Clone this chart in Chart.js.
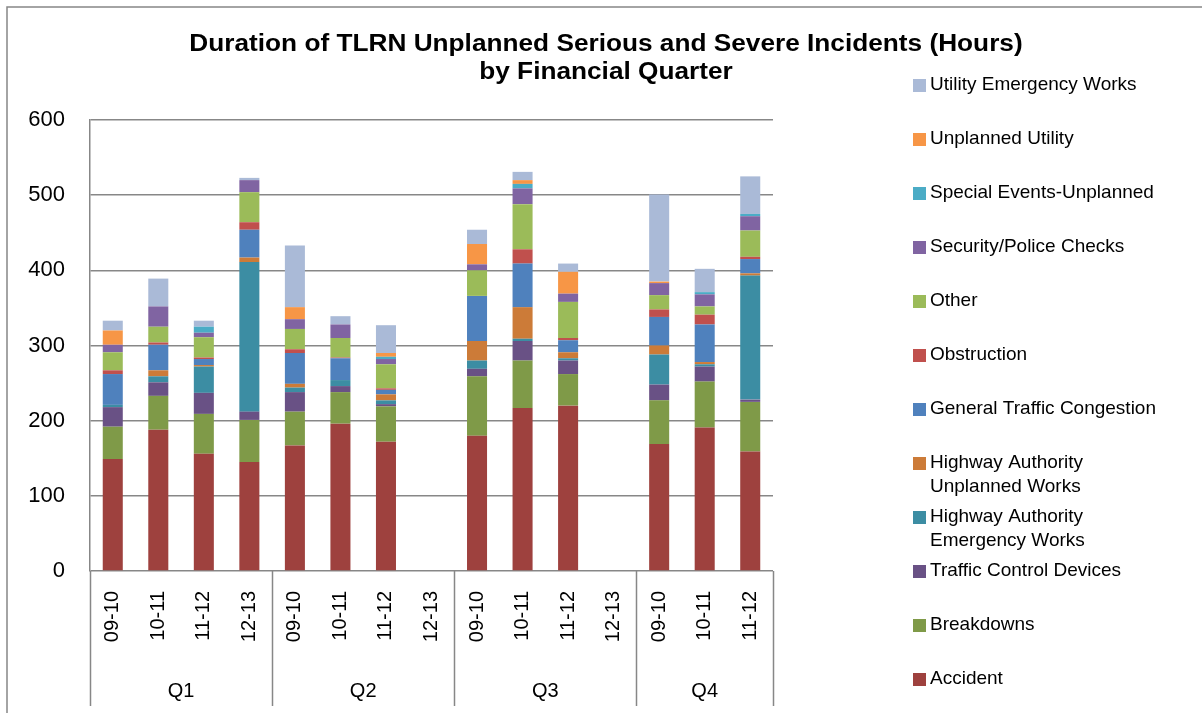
<!DOCTYPE html>
<html>
<head>
<meta charset="utf-8">
<script src="https://cdn.jsdelivr.net/npm/chart.js@4"></script>
<style>
body{margin:0;background:#fff}
#wrap{width:1202px;height:713px;position:relative}
</style>
</head>
<body>
<div id="wrap"><canvas id="grafica" width="1202" height="713"></canvas></div>
<script>

/* DATOS */

const etiquetas=["09-10","10-11","11-12","12-13","09-10","10-11","11-12","12-13","09-10","10-11","11-12","12-13","09-10","10-11","11-12"]
const trimestres=["Q1","Q2","Q3","Q4"]
const porTrimestre=[4,4,4,3]

const accident=[149,188,156,145,167,196,172,null,180,217,220,null,169,191,159]
const breakdowns=[43,45,53,56,45,42,47,null,79,63,42,null,58,61,66]
const trafficControl=[26,18,28,11,26,8,3,null,10,26,18,null,21,20,3]
const haEmergency=[3,8,35,199,6,8,5,null,11,3,3,null,40,3,165]
const haUnplanned=[0,8,2,6,5,0,8,null,26,42,8,null,12,3,3]
const congestion=[41,34,8,37,41,29,6,null,60,58,16,null,38,50,19]
const obstruction=[5,3,2,10,5,1,2,null,0,19,3,null,10,13,3]
const other=[24,21,27,40,27,26,32,null,34,60,48,null,19,11,35]
const security=[10,27,6,16,13,18,7,null,8,21,11,null,16,16,19]
const specialEvents=[0,0,8,0,0,0,3,null,0,6,0,null,0,3,3]
const unplannedUtility=[19,0,0,0,16,0,5,null,27,5,29,null,2,0,0]
const utilityEmergency=[13,37,8,3,82,11,37,null,19,11,11,null,116,31,50]

const series=[
["Accident",accident,"#9e413e"],
["Breakdowns",breakdowns,"#7f9a48"],
["Traffic Control Devices",trafficControl,"#695185"],
["Highway Authority\nEmergency Works",haEmergency,"#3c8da3"],
["Highway Authority\nUnplanned Works",haUnplanned,"#cc7b38"],
["General Traffic Congestion",congestion,"#4f81bd"],
["Obstruction",obstruction,"#c0504d"],
["Other",other,"#9bbb59"],
["Security/Police Checks",security,"#8064a2"],
["Special Events-Unplanned",specialEvents,"#4bacc6"],
["Unplanned Utility",unplannedUtility,"#f79646"],
["Utility Emergency Works",utilityEmergency,"#aabad7"]
]

const FUENTE="'Liberation Sans', Arial, sans-serif"
const GRIS="#878787"

/* DECORACION: borde, titulo, grupos, leyenda */

const decor={
id:"decor",
afterDraw(chart){
const ctx=chart.ctx
const x=chart.scales.x
const a=chart.chartArea
ctx.save()

// borde exterior
ctx.strokeStyle=GRIS
ctx.lineWidth=1.5
ctx.beginPath()
ctx.moveTo(7,713)
ctx.lineTo(7,7)
ctx.lineTo(1202,7)
ctx.stroke()

// titulo (un poco ensanchado como en el original)
ctx.fillStyle="#000"
ctx.textAlign="center"
ctx.textBaseline="middle"
ctx.save()
ctx.translate(606,0)
ctx.scale(1.14,1)
ctx.font="bold 23px "+FUENTE
ctx.fillText("Duration of TLRN Unplanned Serious and Severe Incidents (Hours)",0,45)
ctx.fillText("by Financial Quarter",0,73)
ctx.restore()

// separadores y trimestres
const ancho=(x.right-x.left)/etiquetas.length
let i=0
ctx.lineWidth=1.5
ctx.font="20px "+FUENTE
const lineas=[0]
porTrimestre.forEach((n,k)=>{
const ini=x.left+i*ancho
const fin=x.left+(i+n)*ancho
ctx.fillText(trimestres[k],(ini+fin)/2,691)
i+=n
lineas.push(i)
})
ctx.beginPath()
lineas.forEach(p=>{
const px=Math.round(x.left+p*ancho)+0.5
ctx.moveTo(px,a.bottom)
ctx.lineTo(px,706)
})
ctx.stroke()

// leyenda (orden inverso)
ctx.textAlign="left"
ctx.font="19px "+FUENTE
const items=chart.data.datasets.slice().reverse()
items.forEach((d,k)=>{
const y=85+k*54
ctx.fillStyle=d.backgroundColor
ctx.fillRect(913,y-6,13,13)
ctx.fillStyle="#000"
d.label.split("\n").forEach((t,j)=>{
ctx.fillText(t,930,y+j*24)
})
})

ctx.restore()
}
}

new Chart(document.getElementById("grafica"),{

type:"bar",

data:{
labels:etiquetas,
datasets:series.map(s=>({
label:s[0],
data:s[1],
backgroundColor:s[2],
borderWidth:0,
categoryPercentage:1,
barPercentage:0.44
}))
},

options:{
responsive:false,
animation:false,
layout:{padding:{top:120,right:429,left:0,bottom:0}},
plugins:{legend:{display:false},title:{display:false},tooltip:{enabled:false}},
scales:{
x:{
stacked:true,
grid:{display:false},
border:{display:false},
ticks:{
autoSkip:false,
minRotation:90,
maxRotation:90,
padding:12,
color:"#000",
font:{family:FUENTE,size:20}
},
afterFit(s){s.height=142}
},
y:{
stacked:true,
min:0,
max:600,
grid:{color:GRIS,lineWidth:1.5,drawTicks:false},
border:{display:true,color:GRIS,width:1.5},
ticks:{
stepSize:100,
padding:25,
color:"#000",
font:{family:FUENTE,size:22}
},
afterFit(s){s.width=90}
}
}
},

plugins:[decor]

})

</script>
</body>
</html>
